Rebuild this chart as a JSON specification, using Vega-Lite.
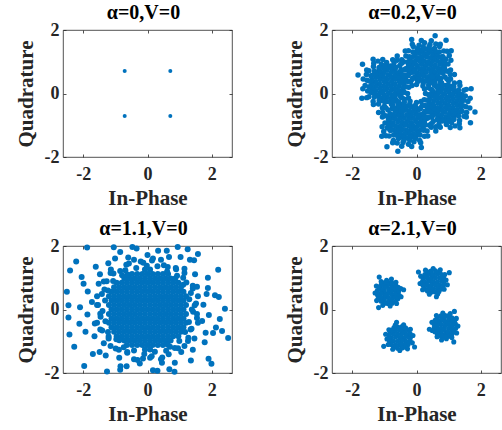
{
"$schema": "https://vega.github.io/schema/vega-lite/v6.json",
"padding": {"left": 14, "top": 2, "right": 0, "bottom": 0},
"columns": 2,
"spacing": {"row": 9, "column": 50},
"config": {
  "font": "Liberation Serif, Times New Roman, serif",
  "view": {"stroke": "#262626", "strokeWidth": 0.8},
  "axis": {"grid": false, "domain": false, "ticks": true, "tickSize": -3, "tickColor": "#262626", "tickWidth": 0.8,
    "labelFont": "Liberation Serif, Times New Roman, serif", "labelFontSize": 18, "labelFontWeight": "bold", "labelColor": "#262626",
    "titleFont": "Liberation Serif, Times New Roman, serif", "titleFontSize": 21, "titleFontWeight": "bold", "titleColor": "#262626",
    "labelExpr": "'' + datum.value"},
  "axisX": {"labelPadding": 11, "titlePadding": 4},
  "axisY": {"labelPadding": 7, "titlePadding": 8},
  "title": {"font": "Liberation Serif, Times New Roman, serif", "fontSize": 20, "fontWeight": "bold", "color": "#000000", "anchor": "middle", "frame": "group", "baseline": "alphabetic", "offset": -2, "dx": -4}
},
"datasets": {
"a": [{"x":-0.71,"y":0.71},{"x":0.71,"y":0.71},{"x":-0.71,"y":-0.71},{"x":0.71,"y":-0.71}],
"b": [
{"x":-0.12,"y":0.91},{"x":0.02,"y":0.88},{"x":0.16,"y":0.92},{"x":0.30,"y":0.89},{"x":0.44,"y":0.91},{"x":0.58,"y":0.89},{"x":0.73,"y":0.92},
{"x":-0.19,"y":1.03},{"x":-0.05,"y":1.01},{"x":0.09,"y":1.03},{"x":0.23,"y":1.02},{"x":0.37,"y":1.00},{"x":0.51,"y":1.03},{"x":0.65,"y":1.02},{"x":0.78,"y":1.01},
{"x":-0.18,"y":0.79},{"x":-0.05,"y":0.77},{"x":0.10,"y":0.78},{"x":0.23,"y":0.79},{"x":0.38,"y":0.77},{"x":0.51,"y":0.78},{"x":0.66,"y":0.79},{"x":0.79,"y":0.78},
{"x":-0.12,"y":1.15},{"x":0.02,"y":1.13},{"x":0.16,"y":1.14},{"x":0.31,"y":1.15},{"x":0.44,"y":1.13},{"x":0.58,"y":1.14},{"x":0.71,"y":1.15},
{"x":-0.11,"y":0.67},{"x":0.01,"y":0.65},{"x":0.16,"y":0.66},{"x":0.30,"y":0.67},{"x":0.45,"y":0.65},{"x":0.58,"y":0.66},{"x":0.72,"y":0.67},
{"x":-0.05,"y":1.25},{"x":0.09,"y":1.27},{"x":0.23,"y":1.26},{"x":0.37,"y":1.27},{"x":0.51,"y":1.25},{"x":0.64,"y":1.26},
{"x":-0.04,"y":0.53},{"x":0.09,"y":0.55},{"x":0.23,"y":0.54},{"x":0.37,"y":0.53},{"x":0.51,"y":0.54},{"x":0.65,"y":0.55},
{"x":0.16,"y":1.37},{"x":0.30,"y":1.39},{"x":0.44,"y":1.38},{"x":0.16,"y":0.42},{"x":0.31,"y":0.41},{"x":0.44,"y":0.43},
{"x":0.02,"y":1.36},{"x":0.58,"y":1.35},{"x":0.03,"y":0.45},{"x":0.59,"y":0.44},{"x":0.85,"y":0.90},{"x":-0.25,"y":0.92},{"x":0.82,"y":0.68},{"x":-0.23,"y":1.13},{"x":0.80,"y":1.16},{"x":-0.20,"y":0.65},
{"x":0.98,"y":0.93},{"x":0.91,"y":1.09},{"x":1.02,"y":1.20},{"x":0.85,"y":1.34},{"x":0.72,"y":1.48},{"x":0.60,"y":1.56},{"x":0.42,"y":1.54},{"x":0.25,"y":1.60},{"x":0.08,"y":1.52},{"x":-0.10,"y":1.48},{"x":-0.25,"y":1.35},{"x":-0.33,"y":1.18},
{"x":-0.40,"y":1.00},{"x":-0.34,"y":0.78},{"x":-0.30,"y":0.58},{"x":-0.18,"y":0.38},{"x":0.00,"y":0.28},{"x":0.20,"y":0.24},{"x":0.38,"y":0.27},{"x":0.56,"y":0.26},{"x":0.74,"y":0.37},{"x":0.88,"y":0.52},{"x":0.96,"y":0.70},
{"x":0.58,"y":1.82},{"x":0.92,"y":1.68},{"x":-0.15,"y":1.70},{"x":1.18,"y":0.60},{"x":-0.52,"y":0.50},{"x":0.70,"y":0.05},{"x":-0.60,"y":1.05},{"x":1.08,"y":1.35},
{"x":0.87,"y":0.99},{"x":0.82,"y":1.16},{"x":0.71,"y":1.31},{"x":0.56,"y":1.42},{"x":0.39,"y":1.47},{"x":0.21,"y":1.47},{"x":0.04,"y":1.42},{"x":-0.11,"y":1.31},{"x":-0.22,"y":1.16},{"x":-0.27,"y":0.99},{"x":-0.27,"y":0.81},{"x":-0.22,"y":0.64},{"x":-0.11,"y":0.49},{"x":0.04,"y":0.38},{"x":0.21,"y":0.33},{"x":0.39,"y":0.33},{"x":0.56,"y":0.38},{"x":0.71,"y":0.49},{"x":0.82,"y":0.64},{"x":0.87,"y":0.81},
{"x":1.07,"y":1.05},{"x":0.95,"y":1.33},{"x":0.74,"y":1.55},{"x":0.46,"y":1.66},{"x":0.15,"y":1.67},{"x":-0.13,"y":1.55},{"x":-0.35,"y":1.34},{"x":-0.46,"y":1.06},{"x":-0.47,"y":0.75},{"x":-0.35,"y":0.47},{"x":-0.14,"y":0.25},{"x":0.45,"y":0.13},{"x":0.73,"y":0.25},{"x":0.95,"y":0.46},{"x":1.06,"y":0.74},
{"x":-0.91,"y":-0.12},{"x":-0.88,"y":0.02},{"x":-0.92,"y":0.16},{"x":-0.89,"y":0.30},{"x":-0.91,"y":0.44},{"x":-0.89,"y":0.58},{"x":-0.92,"y":0.73},
{"x":-1.03,"y":-0.19},{"x":-1.01,"y":-0.05},{"x":-1.03,"y":0.09},{"x":-1.02,"y":0.23},{"x":-1.00,"y":0.37},{"x":-1.03,"y":0.51},{"x":-1.02,"y":0.65},{"x":-1.01,"y":0.78},
{"x":-0.79,"y":-0.18},{"x":-0.77,"y":-0.05},{"x":-0.78,"y":0.10},{"x":-0.79,"y":0.23},{"x":-0.77,"y":0.38},{"x":-0.78,"y":0.51},{"x":-0.79,"y":0.66},{"x":-0.78,"y":0.79},
{"x":-1.15,"y":-0.12},{"x":-1.13,"y":0.02},{"x":-1.14,"y":0.16},{"x":-1.15,"y":0.31},{"x":-1.13,"y":0.44},{"x":-1.14,"y":0.58},{"x":-1.15,"y":0.71},
{"x":-0.67,"y":-0.11},{"x":-0.65,"y":0.01},{"x":-0.66,"y":0.16},{"x":-0.67,"y":0.30},{"x":-0.65,"y":0.45},{"x":-0.66,"y":0.58},{"x":-0.67,"y":0.72},
{"x":-1.25,"y":-0.05},{"x":-1.27,"y":0.09},{"x":-1.26,"y":0.23},{"x":-1.27,"y":0.37},{"x":-1.25,"y":0.51},{"x":-1.26,"y":0.64},
{"x":-0.53,"y":-0.04},{"x":-0.55,"y":0.09},{"x":-0.54,"y":0.23},{"x":-0.53,"y":0.37},{"x":-0.54,"y":0.51},{"x":-0.55,"y":0.65},
{"x":-1.37,"y":0.16},{"x":-1.39,"y":0.30},{"x":-1.38,"y":0.44},{"x":-0.42,"y":0.16},{"x":-0.41,"y":0.31},{"x":-0.43,"y":0.44},
{"x":-1.36,"y":0.02},{"x":-1.35,"y":0.58},{"x":-0.45,"y":0.03},{"x":-0.44,"y":0.59},{"x":-0.90,"y":0.85},{"x":-0.92,"y":-0.25},{"x":-0.68,"y":0.82},{"x":-1.13,"y":-0.23},{"x":-1.16,"y":0.80},{"x":-0.65,"y":-0.20},
{"x":-0.93,"y":0.98},{"x":-1.09,"y":0.91},{"x":-1.20,"y":1.02},{"x":-1.34,"y":0.85},{"x":-1.48,"y":0.72},{"x":-1.56,"y":0.60},{"x":-1.54,"y":0.42},{"x":-1.60,"y":0.25},{"x":-1.52,"y":0.08},{"x":-1.48,"y":-0.10},{"x":-1.35,"y":-0.25},{"x":-1.18,"y":-0.33},
{"x":-1.00,"y":-0.40},{"x":-0.78,"y":-0.34},{"x":-0.58,"y":-0.30},{"x":-0.38,"y":-0.18},{"x":-0.28,"y":0.00},{"x":-0.24,"y":0.20},{"x":-0.27,"y":0.38},{"x":-0.26,"y":0.56},{"x":-0.37,"y":0.74},{"x":-0.52,"y":0.88},{"x":-0.70,"y":0.96},
{"x":-1.82,"y":0.58},{"x":-1.68,"y":0.92},{"x":-1.70,"y":-0.15},{"x":-0.60,"y":1.18},{"x":-0.50,"y":-0.52},{"x":-0.05,"y":0.70},{"x":-1.05,"y":-0.60},{"x":-1.35,"y":1.08},
{"x":-0.99,"y":0.87},{"x":-1.16,"y":0.82},{"x":-1.31,"y":0.71},{"x":-1.42,"y":0.56},{"x":-1.47,"y":0.39},{"x":-1.47,"y":0.21},{"x":-1.42,"y":0.04},{"x":-1.31,"y":-0.11},{"x":-1.16,"y":-0.22},{"x":-0.99,"y":-0.27},{"x":-0.81,"y":-0.27},{"x":-0.64,"y":-0.22},{"x":-0.49,"y":-0.11},{"x":-0.38,"y":0.04},{"x":-0.33,"y":0.21},{"x":-0.33,"y":0.39},{"x":-0.38,"y":0.56},{"x":-0.49,"y":0.71},{"x":-0.64,"y":0.82},{"x":-0.81,"y":0.87},
{"x":-1.05,"y":1.07},{"x":-1.33,"y":0.95},{"x":-1.55,"y":0.74},{"x":-1.66,"y":0.46},{"x":-1.67,"y":0.15},{"x":-1.55,"y":-0.13},{"x":-1.34,"y":-0.35},{"x":-1.06,"y":-0.46},{"x":-0.75,"y":-0.47},{"x":-0.47,"y":-0.35},{"x":-0.25,"y":-0.14},{"x":-0.13,"y":0.45},{"x":-0.25,"y":0.73},{"x":-0.46,"y":0.95},{"x":-0.74,"y":1.06},
{"x":0.12,"y":-0.91},{"x":-0.02,"y":-0.88},{"x":-0.16,"y":-0.92},{"x":-0.30,"y":-0.89},{"x":-0.44,"y":-0.91},{"x":-0.58,"y":-0.89},{"x":-0.73,"y":-0.92},
{"x":0.19,"y":-1.03},{"x":0.05,"y":-1.01},{"x":-0.09,"y":-1.03},{"x":-0.23,"y":-1.02},{"x":-0.37,"y":-1.00},{"x":-0.51,"y":-1.03},{"x":-0.65,"y":-1.02},{"x":-0.78,"y":-1.01},
{"x":0.18,"y":-0.79},{"x":0.05,"y":-0.77},{"x":-0.10,"y":-0.78},{"x":-0.23,"y":-0.79},{"x":-0.38,"y":-0.77},{"x":-0.51,"y":-0.78},{"x":-0.66,"y":-0.79},{"x":-0.79,"y":-0.78},
{"x":0.12,"y":-1.15},{"x":-0.02,"y":-1.13},{"x":-0.16,"y":-1.14},{"x":-0.31,"y":-1.15},{"x":-0.44,"y":-1.13},{"x":-0.58,"y":-1.14},{"x":-0.71,"y":-1.15},
{"x":0.11,"y":-0.67},{"x":-0.01,"y":-0.65},{"x":-0.16,"y":-0.66},{"x":-0.30,"y":-0.67},{"x":-0.45,"y":-0.65},{"x":-0.58,"y":-0.66},{"x":-0.72,"y":-0.67},
{"x":0.05,"y":-1.25},{"x":-0.09,"y":-1.27},{"x":-0.23,"y":-1.26},{"x":-0.37,"y":-1.27},{"x":-0.51,"y":-1.25},{"x":-0.64,"y":-1.26},
{"x":0.04,"y":-0.53},{"x":-0.09,"y":-0.55},{"x":-0.23,"y":-0.54},{"x":-0.37,"y":-0.53},{"x":-0.51,"y":-0.54},{"x":-0.65,"y":-0.55},
{"x":-0.16,"y":-1.37},{"x":-0.30,"y":-1.39},{"x":-0.44,"y":-1.38},{"x":-0.16,"y":-0.42},{"x":-0.31,"y":-0.41},{"x":-0.44,"y":-0.43},
{"x":-0.02,"y":-1.36},{"x":-0.58,"y":-1.35},{"x":-0.03,"y":-0.45},{"x":-0.59,"y":-0.44},{"x":-0.85,"y":-0.90},{"x":0.25,"y":-0.92},{"x":-0.82,"y":-0.68},{"x":0.23,"y":-1.13},{"x":-0.80,"y":-1.16},{"x":0.20,"y":-0.65},
{"x":-0.98,"y":-0.93},{"x":-0.91,"y":-1.09},{"x":-1.02,"y":-1.20},{"x":-0.85,"y":-1.34},{"x":-0.72,"y":-1.48},{"x":-0.60,"y":-1.56},{"x":-0.42,"y":-1.54},{"x":-0.25,"y":-1.60},{"x":-0.08,"y":-1.52},{"x":0.10,"y":-1.48},{"x":0.25,"y":-1.35},{"x":0.33,"y":-1.18},
{"x":0.40,"y":-1.00},{"x":0.34,"y":-0.78},{"x":0.30,"y":-0.58},{"x":0.18,"y":-0.38},{"x":0.00,"y":-0.28},{"x":-0.20,"y":-0.24},{"x":-0.38,"y":-0.27},{"x":-0.56,"y":-0.26},{"x":-0.74,"y":-0.37},{"x":-0.88,"y":-0.52},{"x":-0.96,"y":-0.70},
{"x":-0.58,"y":-1.82},{"x":-0.92,"y":-1.68},{"x":0.15,"y":-1.70},{"x":-1.18,"y":-0.60},{"x":0.52,"y":-0.50},{"x":-0.70,"y":-0.05},{"x":0.60,"y":-1.05},{"x":-1.08,"y":-1.35},
{"x":-0.87,"y":-0.99},{"x":-0.82,"y":-1.16},{"x":-0.71,"y":-1.31},{"x":-0.56,"y":-1.42},{"x":-0.39,"y":-1.47},{"x":-0.21,"y":-1.47},{"x":-0.04,"y":-1.42},{"x":0.11,"y":-1.31},{"x":0.22,"y":-1.16},{"x":0.27,"y":-0.99},{"x":0.27,"y":-0.81},{"x":0.22,"y":-0.64},{"x":0.11,"y":-0.49},{"x":-0.04,"y":-0.38},{"x":-0.21,"y":-0.33},{"x":-0.39,"y":-0.33},{"x":-0.56,"y":-0.38},{"x":-0.71,"y":-0.49},{"x":-0.82,"y":-0.64},{"x":-0.87,"y":-0.81},
{"x":-1.07,"y":-1.05},{"x":-0.95,"y":-1.33},{"x":-0.74,"y":-1.55},{"x":-0.46,"y":-1.66},{"x":-0.15,"y":-1.67},{"x":0.13,"y":-1.55},{"x":0.35,"y":-1.34},{"x":0.46,"y":-1.06},{"x":0.47,"y":-0.75},{"x":0.35,"y":-0.47},{"x":0.14,"y":-0.25},{"x":-0.45,"y":-0.13},{"x":-0.73,"y":-0.25},{"x":-0.95,"y":-0.46},{"x":-1.06,"y":-0.74},
{"x":0.91,"y":0.12},{"x":0.88,"y":-0.02},{"x":0.92,"y":-0.16},{"x":0.89,"y":-0.30},{"x":0.91,"y":-0.44},{"x":0.89,"y":-0.58},{"x":0.92,"y":-0.73},
{"x":1.03,"y":0.19},{"x":1.01,"y":0.05},{"x":1.03,"y":-0.09},{"x":1.02,"y":-0.23},{"x":1.00,"y":-0.37},{"x":1.03,"y":-0.51},{"x":1.02,"y":-0.65},{"x":1.01,"y":-0.78},
{"x":0.79,"y":0.18},{"x":0.77,"y":0.05},{"x":0.78,"y":-0.10},{"x":0.79,"y":-0.23},{"x":0.77,"y":-0.38},{"x":0.78,"y":-0.51},{"x":0.79,"y":-0.66},{"x":0.78,"y":-0.79},
{"x":1.15,"y":0.12},{"x":1.13,"y":-0.02},{"x":1.14,"y":-0.16},{"x":1.15,"y":-0.31},{"x":1.13,"y":-0.44},{"x":1.14,"y":-0.58},{"x":1.15,"y":-0.71},
{"x":0.67,"y":0.11},{"x":0.65,"y":-0.01},{"x":0.66,"y":-0.16},{"x":0.67,"y":-0.30},{"x":0.65,"y":-0.45},{"x":0.66,"y":-0.58},{"x":0.67,"y":-0.72},
{"x":1.25,"y":0.05},{"x":1.27,"y":-0.09},{"x":1.26,"y":-0.23},{"x":1.27,"y":-0.37},{"x":1.25,"y":-0.51},{"x":1.26,"y":-0.64},
{"x":0.53,"y":0.04},{"x":0.55,"y":-0.09},{"x":0.54,"y":-0.23},{"x":0.53,"y":-0.37},{"x":0.54,"y":-0.51},{"x":0.55,"y":-0.65},
{"x":1.37,"y":-0.16},{"x":1.39,"y":-0.30},{"x":1.38,"y":-0.44},{"x":0.42,"y":-0.16},{"x":0.41,"y":-0.31},{"x":0.43,"y":-0.44},
{"x":1.36,"y":-0.02},{"x":1.35,"y":-0.58},{"x":0.45,"y":-0.03},{"x":0.44,"y":-0.59},{"x":0.90,"y":-0.85},{"x":0.92,"y":0.25},{"x":0.68,"y":-0.82},{"x":1.13,"y":0.23},{"x":1.16,"y":-0.80},{"x":0.65,"y":0.20},
{"x":0.93,"y":-0.98},{"x":1.09,"y":-0.91},{"x":1.20,"y":-1.02},{"x":1.34,"y":-0.85},{"x":1.48,"y":-0.72},{"x":1.56,"y":-0.60},{"x":1.54,"y":-0.42},{"x":1.60,"y":-0.25},{"x":1.52,"y":-0.08},{"x":1.48,"y":0.10},{"x":1.35,"y":0.25},{"x":1.18,"y":0.33},
{"x":1.00,"y":0.40},{"x":0.78,"y":0.34},{"x":0.58,"y":0.30},{"x":0.38,"y":0.18},{"x":0.28,"y":0.00},{"x":0.24,"y":-0.20},{"x":0.27,"y":-0.38},{"x":0.26,"y":-0.56},{"x":0.37,"y":-0.74},{"x":0.52,"y":-0.88},{"x":0.70,"y":-0.96},
{"x":1.82,"y":-0.58},{"x":1.68,"y":-0.92},{"x":1.70,"y":0.15},{"x":0.60,"y":-1.18},{"x":0.50,"y":0.52},{"x":0.05,"y":-0.70},{"x":1.05,"y":0.60},{"x":1.35,"y":-1.08},
{"x":0.99,"y":-0.87},{"x":1.16,"y":-0.82},{"x":1.31,"y":-0.71},{"x":1.42,"y":-0.56},{"x":1.47,"y":-0.39},{"x":1.47,"y":-0.21},{"x":1.42,"y":-0.04},{"x":1.31,"y":0.11},{"x":1.16,"y":0.22},{"x":0.99,"y":0.27},{"x":0.81,"y":0.27},{"x":0.64,"y":0.22},{"x":0.49,"y":0.11},{"x":0.38,"y":-0.04},{"x":0.33,"y":-0.21},{"x":0.33,"y":-0.39},{"x":0.38,"y":-0.56},{"x":0.49,"y":-0.71},{"x":0.64,"y":-0.82},{"x":0.81,"y":-0.87},
{"x":1.05,"y":-1.07},{"x":1.33,"y":-0.95},{"x":1.55,"y":-0.74},{"x":1.66,"y":-0.46},{"x":1.67,"y":-0.15},{"x":1.55,"y":0.13},{"x":1.34,"y":0.35},{"x":1.06,"y":0.46},{"x":0.75,"y":0.47},{"x":0.47,"y":0.35},{"x":0.25,"y":0.14},{"x":0.13,"y":-0.45},{"x":0.25,"y":-0.73},{"x":0.46,"y":-0.95},{"x":0.74,"y":-1.06}
],
"c": [
{"x":-1.12,"y":0},{"x":-0.96,"y":0},{"x":-0.8,"y":0},{"x":-0.64,"y":0},{"x":-0.48,"y":0},{"x":-0.32,"y":0},{"x":-0.16,"y":0},{"x":0,"y":0},{"x":0.16,"y":0},{"x":0.32,"y":0},{"x":0.48,"y":0},{"x":0.64,"y":0},{"x":0.8,"y":0},{"x":0.96,"y":0},{"x":1.12,"y":0},
{"x":-1.2,"y":0.14},{"x":-1.04,"y":0.14},{"x":-0.88,"y":0.14},{"x":-0.72,"y":0.14},{"x":-0.56,"y":0.14},{"x":-0.4,"y":0.14},{"x":-0.24,"y":0.14},{"x":-0.08,"y":0.14},{"x":0.08,"y":0.14},{"x":0.24,"y":0.14},{"x":0.4,"y":0.14},{"x":0.56,"y":0.14},{"x":0.72,"y":0.14},{"x":0.88,"y":0.14},{"x":1.04,"y":0.14},{"x":1.2,"y":0.14},
{"x":-1.2,"y":-0.14},{"x":-1.04,"y":-0.14},{"x":-0.88,"y":-0.14},{"x":-0.72,"y":-0.14},{"x":-0.56,"y":-0.14},{"x":-0.4,"y":-0.14},{"x":-0.24,"y":-0.14},{"x":-0.08,"y":-0.14},{"x":0.08,"y":-0.14},{"x":0.24,"y":-0.14},{"x":0.4,"y":-0.14},{"x":0.56,"y":-0.14},{"x":0.72,"y":-0.14},{"x":0.88,"y":-0.14},{"x":1.04,"y":-0.14},{"x":1.2,"y":-0.14},
{"x":-1.12,"y":0.28},{"x":-0.96,"y":0.28},{"x":-0.8,"y":0.28},{"x":-0.64,"y":0.28},{"x":-0.48,"y":0.28},{"x":-0.32,"y":0.28},{"x":-0.16,"y":0.28},{"x":0,"y":0.28},{"x":0.16,"y":0.28},{"x":0.32,"y":0.28},{"x":0.48,"y":0.28},{"x":0.64,"y":0.28},{"x":0.8,"y":0.28},{"x":0.96,"y":0.28},{"x":1.12,"y":0.28},
{"x":-1.12,"y":-0.28},{"x":-0.96,"y":-0.28},{"x":-0.8,"y":-0.28},{"x":-0.64,"y":-0.28},{"x":-0.48,"y":-0.28},{"x":-0.32,"y":-0.28},{"x":-0.16,"y":-0.28},{"x":0,"y":-0.28},{"x":0.16,"y":-0.28},{"x":0.32,"y":-0.28},{"x":0.48,"y":-0.28},{"x":0.64,"y":-0.28},{"x":0.8,"y":-0.28},{"x":0.96,"y":-0.28},{"x":1.12,"y":-0.28},
{"x":-1.2,"y":0.42},{"x":-1.04,"y":0.42},{"x":-0.88,"y":0.42},{"x":-0.72,"y":0.42},{"x":-0.56,"y":0.42},{"x":-0.4,"y":0.42},{"x":-0.24,"y":0.42},{"x":-0.08,"y":0.42},{"x":0.08,"y":0.42},{"x":0.24,"y":0.42},{"x":0.4,"y":0.42},{"x":0.56,"y":0.42},{"x":0.72,"y":0.42},{"x":0.88,"y":0.42},{"x":1.04,"y":0.42},{"x":1.2,"y":0.42},
{"x":-1.2,"y":-0.42},{"x":-1.04,"y":-0.42},{"x":-0.88,"y":-0.42},{"x":-0.72,"y":-0.42},{"x":-0.56,"y":-0.42},{"x":-0.4,"y":-0.42},{"x":-0.24,"y":-0.42},{"x":-0.08,"y":-0.42},{"x":0.08,"y":-0.42},{"x":0.24,"y":-0.42},{"x":0.4,"y":-0.42},{"x":0.56,"y":-0.42},{"x":0.72,"y":-0.42},{"x":0.88,"y":-0.42},{"x":1.04,"y":-0.42},{"x":1.2,"y":-0.42},
{"x":-1.12,"y":0.56},{"x":-0.96,"y":0.56},{"x":-0.8,"y":0.56},{"x":-0.64,"y":0.56},{"x":-0.48,"y":0.56},{"x":-0.32,"y":0.56},{"x":-0.16,"y":0.56},{"x":0,"y":0.56},{"x":0.16,"y":0.56},{"x":0.32,"y":0.56},{"x":0.48,"y":0.56},{"x":0.64,"y":0.56},{"x":0.8,"y":0.56},{"x":0.96,"y":0.56},{"x":1.12,"y":0.56},
{"x":-1.12,"y":-0.56},{"x":-0.96,"y":-0.56},{"x":-0.8,"y":-0.56},{"x":-0.64,"y":-0.56},{"x":-0.48,"y":-0.56},{"x":-0.32,"y":-0.56},{"x":-0.16,"y":-0.56},{"x":0,"y":-0.56},{"x":0.16,"y":-0.56},{"x":0.32,"y":-0.56},{"x":0.48,"y":-0.56},{"x":0.64,"y":-0.56},{"x":0.8,"y":-0.56},{"x":0.96,"y":-0.56},{"x":1.12,"y":-0.56},
{"x":-1.04,"y":0.7},{"x":-0.88,"y":0.7},{"x":-0.72,"y":0.7},{"x":-0.56,"y":0.7},{"x":-0.4,"y":0.7},{"x":-0.24,"y":0.7},{"x":-0.08,"y":0.7},{"x":0.08,"y":0.7},{"x":0.24,"y":0.7},{"x":0.4,"y":0.7},{"x":0.56,"y":0.7},{"x":0.72,"y":0.7},{"x":0.88,"y":0.7},{"x":1.04,"y":0.7},
{"x":-1.04,"y":-0.7},{"x":-0.88,"y":-0.7},{"x":-0.72,"y":-0.7},{"x":-0.56,"y":-0.7},{"x":-0.4,"y":-0.7},{"x":-0.24,"y":-0.7},{"x":-0.08,"y":-0.7},{"x":0.08,"y":-0.7},{"x":0.24,"y":-0.7},{"x":0.4,"y":-0.7},{"x":0.56,"y":-0.7},{"x":0.72,"y":-0.7},{"x":0.88,"y":-0.7},{"x":1.04,"y":-0.7},
{"x":-0.96,"y":0.84},{"x":-0.8,"y":0.84},{"x":-0.64,"y":0.84},{"x":-0.48,"y":0.84},{"x":-0.32,"y":0.84},{"x":-0.16,"y":0.84},{"x":0,"y":0.84},{"x":0.16,"y":0.84},{"x":0.32,"y":0.84},{"x":0.48,"y":0.84},{"x":0.64,"y":0.84},{"x":0.8,"y":0.84},{"x":0.96,"y":0.84},
{"x":-0.96,"y":-0.84},{"x":-0.8,"y":-0.84},{"x":-0.64,"y":-0.84},{"x":-0.48,"y":-0.84},{"x":-0.32,"y":-0.84},{"x":-0.16,"y":-0.84},{"x":0,"y":-0.84},{"x":0.16,"y":-0.84},{"x":0.32,"y":-0.84},{"x":0.48,"y":-0.84},{"x":0.64,"y":-0.84},{"x":0.8,"y":-0.84},{"x":0.96,"y":-0.84},
{"x":-0.72,"y":0.98},{"x":-0.56,"y":0.98},{"x":-0.4,"y":0.98},{"x":-0.24,"y":0.98},{"x":-0.08,"y":0.98},{"x":0.08,"y":0.98},{"x":0.24,"y":0.98},{"x":0.4,"y":0.98},{"x":0.56,"y":0.98},{"x":0.72,"y":0.98},
{"x":-0.72,"y":-0.98},{"x":-0.56,"y":-0.98},{"x":-0.4,"y":-0.98},{"x":-0.24,"y":-0.98},{"x":-0.08,"y":-0.98},{"x":0.08,"y":-0.98},{"x":0.24,"y":-0.98},{"x":0.4,"y":-0.98},{"x":0.56,"y":-0.98},{"x":0.72,"y":-0.98},
{"x":-0.48,"y":1.12},{"x":-0.32,"y":1.12},{"x":-0.16,"y":1.12},{"x":0,"y":1.12},{"x":0.16,"y":1.12},{"x":0.32,"y":1.12},{"x":0.48,"y":1.12},
{"x":-0.48,"y":-1.12},{"x":-0.32,"y":-1.12},{"x":-0.16,"y":-1.12},{"x":0,"y":-1.12},{"x":0.16,"y":-1.12},{"x":0.32,"y":-1.12},{"x":0.48,"y":-1.12},
{"x":-0.08,"y":1.26},{"x":0.08,"y":1.26},{"x":-0.08,"y":-1.26},{"x":0.08,"y":-1.26},
{"x":0.64,"y":1.12},{"x":-0.62,"y":1.1},{"x":0.86,"y":0.98},{"x":-0.88,"y":-0.97},{"x":0.63,"y":-1.11},{"x":-0.64,"y":-1.12},
{"x":1.38,"y":0.00},{"x":1.51,"y":0.19},{"x":1.30,"y":0.32},{"x":1.35,"y":0.52},{"x":1.41,"y":0.75},{"x":1.11,"y":0.78},{"x":1.11,"y":1.00},{"x":0.92,"y":1.06},{"x":0.88,"y":1.31},{"x":0.61,"y":1.20},{"x":0.51,"y":1.39},{"x":0.31,"y":1.36},{"x":0.17,"y":1.61},
{"x":-0.02,"y":1.38},{"x":-0.21,"y":1.51},{"x":-0.35,"y":1.31},{"x":-0.58,"y":1.45},{"x":-0.69,"y":1.24},{"x":-0.79,"y":1.08},{"x":-1.06,"y":1.13},{"x":-1.07,"y":0.90},{"x":-1.36,"y":0.88},{"x":-1.23,"y":0.60},{"x":-1.42,"y":0.49},{"x":-1.32,"y":0.28},{"x":-1.57,"y":0.14},
{"x":-1.40,"y":-0.05},{"x":-1.46,"y":-0.23},{"x":-1.31,"y":-0.37},{"x":-1.47,"y":-0.63},{"x":-1.23,"y":-0.71},{"x":-1.21,"y":-0.91},{"x":-0.97,"y":-0.94},{"x":-0.99,"y":-1.23},{"x":-0.74,"y":-1.19},{"x":-0.63,"y":-1.36},{"x":-0.42,"y":-1.29},{"x":-0.31,"y":-1.59},
{"x":-0.10,"y":-1.40},{"x":0.08,"y":-1.52},{"x":0.23,"y":-1.33},{"x":0.46,"y":-1.51},{"x":0.58,"y":-1.30},{"x":0.70,"y":-1.17},{"x":0.95,"y":-1.22},{"x":0.99,"y":-0.99},{"x":1.26,"y":-0.99},{"x":1.17,"y":-0.71},{"x":1.37,"y":-0.61},{"x":1.29,"y":-0.39},{"x":1.54,"y":-0.27},{"x":1.42,"y":-0.07},
{"x":1.47,"y":0.13},{"x":1.57,"y":0.42},{"x":1.41,"y":0.66},{"x":1.21,"y":0.85},{"x":1.15,"y":1.15},{"x":0.89,"y":1.27},{"x":0.63,"y":1.34},{"x":0.42,"y":1.57},{"x":0.14,"y":1.54},{"x":-0.13,"y":1.47},{"x":-0.42,"y":1.57},{"x":-0.66,"y":1.41},
{"x":-0.85,"y":1.21},{"x":-1.15,"y":1.15},{"x":-1.27,"y":0.89},{"x":-1.34,"y":0.63},{"x":-1.57,"y":0.42},{"x":-1.54,"y":0.14},{"x":-1.47,"y":-0.13},{"x":-1.57,"y":-0.42},{"x":-1.41,"y":-0.66},{"x":-1.21,"y":-0.85},{"x":-1.15,"y":-1.15},{"x":-0.89,"y":-1.27},
{"x":-0.63,"y":-1.34},{"x":-0.42,"y":-1.57},{"x":-0.14,"y":-1.54},{"x":0.13,"y":-1.47},{"x":0.42,"y":-1.57},{"x":0.66,"y":-1.41},{"x":0.85,"y":-1.21},{"x":1.15,"y":-1.15},{"x":1.27,"y":-0.89},{"x":1.34,"y":-0.63},{"x":1.57,"y":-0.42},{"x":1.54,"y":-0.14},
{"x":1.74,"y":0.15},{"x":1.84,"y":0.49},{"x":1.54,"y":0.72},{"x":1.48,"y":1.11},{"x":1.15,"y":1.28},{"x":1.03,"y":1.65},{"x":0.67,"y":1.65},{"x":0.33,"y":1.85},{"x":0.00,"y":1.72},{"x":-0.34,"y":1.92},{"x":-0.60,"y":1.64},{"x":-1.01,"y":1.61},
{"x":-1.14,"y":1.26},{"x":-1.48,"y":1.11},{"x":-1.52,"y":0.81},{"x":-1.86,"y":0.57},{"x":-1.73,"y":0.24},{"x":-1.87,"y":-0.16},{"x":-1.64,"y":-0.44},{"x":-1.65,"y":-0.84},{"x":-1.36,"y":-1.06},{"x":-1.30,"y":-1.45},{"x":-0.88,"y":-1.52},
{"x":-0.65,"y":-1.79},{"x":-0.24,"y":-1.70},{"x":0.17,"y":-1.91},{"x":0.45,"y":-1.68},{"x":0.85,"y":-1.68},{"x":1.05,"y":-1.34},{"x":1.41,"y":-1.27},{"x":1.46,"y":-0.91},{"x":1.81,"y":-0.73},{"x":1.70,"y":-0.36},{"x":1.91,"y":-0.17},
{"x":1.88,"y":0.68},{"x":1.32,"y":1.57},{"x":0.60,"y":1.85},{"x":-0.85,"y":1.81},{"x":-1.61,"y":1.35},{"x":-1.99,"y":0.81},{"x":-2.10,"y":0.07},{"x":-1.93,"y":-0.70},{"x":-1.49,"y":-1.34},{"x":-0.84,"y":-1.79},{"x":0.68,"y":-1.88},{"x":1.35,"y":-1.61},{"x":1.78,"y":-1.03},{"x":2.13,"y":-0.57},{"x":2.22,"y":0.39},{"x":-1.22,"y":1.46},
{"x":-2.51,"y":0.56},{"x":-2.46,"y":0.13},{"x":-2.46,"y":-0.25},{"x":-2.43,"y":-0.79},{"x":-2.28,"y":-1.17},{"x":-1.97,"y":-1.78},{"x":-2.05,"y":1.02},{"x":-1.88,"y":1.95},{"x":-2.22,"y":1.51},{"x":-2.41,"y":1.23},
{"x":2.41,"y":0.02},{"x":2.51,"y":-0.90},{"x":2.32,"y":-0.68},{"x":2.04,"y":-0.74},{"x":1.99,"y":-1.71},{"x":1.90,"y":-1.55},{"x":1.57,"y":1.75},{"x":1.45,"y":1.55},{"x":1.88,"y":1.00},{"x":0.94,"y":1.97},
{"x":-1.05,"y":1.96},{"x":-0.47,"y":1.97},{"x":-1.26,"y":-1.95},{"x":0.84,"y":-1.96},{"x":0.31,"y":-1.93},{"x":2.10,"y":0.45},{"x":-2.12,"y":-0.45},{"x":2.20,"y":1.25},{"x":-1.70,"y":-1.40},{"x":1.25,"y":1.90},{"x":-0.85,"y":-1.90},{"x":2.25,"y":-0.30}
],
"d": [
{"x":0.19,"y":0.89},{"x":0.26,"y":0.87},{"x":0.39,"y":0.89},{"x":0.52,"y":0.88},{"x":0.65,"y":0.87},{"x":0.78,"y":0.89},{"x":0.85,"y":0.87},
{"x":0.20,"y":0.99},{"x":0.33,"y":1.00},{"x":0.46,"y":0.99},{"x":0.59,"y":1.00},{"x":0.72,"y":0.99},{"x":0.84,"y":1.00},
{"x":0.20,"y":0.76},{"x":0.33,"y":0.77},{"x":0.46,"y":0.76},{"x":0.59,"y":0.77},{"x":0.72,"y":0.76},{"x":0.84,"y":0.77},
{"x":0.26,"y":1.10},{"x":0.39,"y":1.11},{"x":0.52,"y":1.10},{"x":0.65,"y":1.11},{"x":0.78,"y":1.10},
{"x":0.26,"y":0.65},{"x":0.39,"y":0.66},{"x":0.52,"y":0.65},{"x":0.65,"y":0.66},{"x":0.78,"y":0.65},
{"x":0.45,"y":1.21},{"x":0.59,"y":1.22},{"x":0.45,"y":0.54},{"x":0.58,"y":0.55},{"x":0.34,"y":1.19},{"x":0.71,"y":1.18},{"x":0.34,"y":0.58},{"x":0.70,"y":0.57},
{"x":0.92,"y":0.93},{"x":0.88,"y":1.10},{"x":0.74,"y":1.25},{"x":0.52,"y":1.29},{"x":0.28,"y":1.24},{"x":0.13,"y":1.05},{"x":0.11,"y":0.82},{"x":0.19,"y":0.62},{"x":0.40,"y":0.48},{"x":0.66,"y":0.49},{"x":0.86,"y":0.64},{"x":0.96,"y":0.78},
{"x":1.02,"y":1.16},{"x":0.06,"y":1.18},{"x":0.62,"y":0.40},
{"x":-0.89,"y":0.19},{"x":-0.87,"y":0.26},{"x":-0.89,"y":0.39},{"x":-0.88,"y":0.52},{"x":-0.87,"y":0.65},{"x":-0.89,"y":0.78},{"x":-0.87,"y":0.85},
{"x":-0.99,"y":0.20},{"x":-1.00,"y":0.33},{"x":-0.99,"y":0.46},{"x":-1.00,"y":0.59},{"x":-0.99,"y":0.72},{"x":-1.00,"y":0.84},
{"x":-0.76,"y":0.20},{"x":-0.77,"y":0.33},{"x":-0.76,"y":0.46},{"x":-0.77,"y":0.59},{"x":-0.76,"y":0.72},{"x":-0.77,"y":0.84},
{"x":-1.10,"y":0.26},{"x":-1.11,"y":0.39},{"x":-1.10,"y":0.52},{"x":-1.11,"y":0.65},{"x":-1.10,"y":0.78},
{"x":-0.65,"y":0.26},{"x":-0.66,"y":0.39},{"x":-0.65,"y":0.52},{"x":-0.66,"y":0.65},{"x":-0.65,"y":0.78},
{"x":-1.21,"y":0.45},{"x":-1.22,"y":0.59},{"x":-0.54,"y":0.45},{"x":-0.55,"y":0.58},{"x":-1.19,"y":0.34},{"x":-1.18,"y":0.71},{"x":-0.58,"y":0.34},{"x":-0.57,"y":0.70},
{"x":-0.93,"y":0.92},{"x":-1.10,"y":0.88},{"x":-1.25,"y":0.74},{"x":-1.29,"y":0.52},{"x":-1.24,"y":0.28},{"x":-1.05,"y":0.13},{"x":-0.82,"y":0.11},{"x":-0.62,"y":0.19},{"x":-0.48,"y":0.40},{"x":-0.49,"y":0.66},{"x":-0.64,"y":0.86},{"x":-0.78,"y":0.96},
{"x":-1.16,"y":1.02},{"x":-1.18,"y":0.06},{"x":-0.40,"y":0.62},
{"x":-0.19,"y":-0.89},{"x":-0.26,"y":-0.87},{"x":-0.39,"y":-0.89},{"x":-0.52,"y":-0.88},{"x":-0.65,"y":-0.87},{"x":-0.78,"y":-0.89},{"x":-0.85,"y":-0.87},
{"x":-0.20,"y":-0.99},{"x":-0.33,"y":-1.00},{"x":-0.46,"y":-0.99},{"x":-0.59,"y":-1.00},{"x":-0.72,"y":-0.99},{"x":-0.84,"y":-1.00},
{"x":-0.20,"y":-0.76},{"x":-0.33,"y":-0.77},{"x":-0.46,"y":-0.76},{"x":-0.59,"y":-0.77},{"x":-0.72,"y":-0.76},{"x":-0.84,"y":-0.77},
{"x":-0.26,"y":-1.10},{"x":-0.39,"y":-1.11},{"x":-0.52,"y":-1.10},{"x":-0.65,"y":-1.11},{"x":-0.78,"y":-1.10},
{"x":-0.26,"y":-0.65},{"x":-0.39,"y":-0.66},{"x":-0.52,"y":-0.65},{"x":-0.65,"y":-0.66},{"x":-0.78,"y":-0.65},
{"x":-0.45,"y":-1.21},{"x":-0.59,"y":-1.22},{"x":-0.45,"y":-0.54},{"x":-0.58,"y":-0.55},{"x":-0.34,"y":-1.19},{"x":-0.71,"y":-1.18},{"x":-0.34,"y":-0.58},{"x":-0.70,"y":-0.57},
{"x":-0.92,"y":-0.93},{"x":-0.88,"y":-1.10},{"x":-0.74,"y":-1.25},{"x":-0.52,"y":-1.29},{"x":-0.28,"y":-1.24},{"x":-0.13,"y":-1.05},{"x":-0.11,"y":-0.82},{"x":-0.19,"y":-0.62},{"x":-0.40,"y":-0.48},{"x":-0.66,"y":-0.49},{"x":-0.86,"y":-0.64},{"x":-0.96,"y":-0.78},
{"x":-1.02,"y":-1.16},{"x":-0.06,"y":-1.18},{"x":-0.62,"y":-0.40},
{"x":0.89,"y":-0.19},{"x":0.87,"y":-0.26},{"x":0.89,"y":-0.39},{"x":0.88,"y":-0.52},{"x":0.87,"y":-0.65},{"x":0.89,"y":-0.78},{"x":0.87,"y":-0.85},
{"x":0.99,"y":-0.20},{"x":1.00,"y":-0.33},{"x":0.99,"y":-0.46},{"x":1.00,"y":-0.59},{"x":0.99,"y":-0.72},{"x":1.00,"y":-0.84},
{"x":0.76,"y":-0.20},{"x":0.77,"y":-0.33},{"x":0.76,"y":-0.46},{"x":0.77,"y":-0.59},{"x":0.76,"y":-0.72},{"x":0.77,"y":-0.84},
{"x":1.10,"y":-0.26},{"x":1.11,"y":-0.39},{"x":1.10,"y":-0.52},{"x":1.11,"y":-0.65},{"x":1.10,"y":-0.78},
{"x":0.65,"y":-0.26},{"x":0.66,"y":-0.39},{"x":0.65,"y":-0.52},{"x":0.66,"y":-0.65},{"x":0.65,"y":-0.78},
{"x":1.21,"y":-0.45},{"x":1.22,"y":-0.59},{"x":0.54,"y":-0.45},{"x":0.55,"y":-0.58},{"x":1.19,"y":-0.34},{"x":1.18,"y":-0.71},{"x":0.58,"y":-0.34},{"x":0.57,"y":-0.70},
{"x":0.93,"y":-0.92},{"x":1.10,"y":-0.88},{"x":1.25,"y":-0.74},{"x":1.29,"y":-0.52},{"x":1.24,"y":-0.28},{"x":1.05,"y":-0.13},{"x":0.82,"y":-0.11},{"x":0.62,"y":-0.19},{"x":0.48,"y":-0.40},{"x":0.49,"y":-0.66},{"x":0.64,"y":-0.86},{"x":0.78,"y":-0.96},
{"x":1.16,"y":-1.02},{"x":1.18,"y":-0.06},{"x":0.40,"y":-0.62}
]
},
"concat": [
{"width": 169, "height": 127, "title": "α=0,V=0", "data": {"name": "a"},
 "layer": [
  {"mark": {"type": "point", "filled": true, "size": 16, "opacity": 1, "color": "#0072BD"},
   "encoding": {"x": {"field": "x", "type": "quantitative", "scale": {"domain": [-2.63, 2.63], "nice": false, "zero": false}, "axis": {"title": "In-Phase", "values": [-2, 0, 2]}},
                "y": {"field": "y", "type": "quantitative", "scale": {"domain": [-2, 2], "nice": false, "zero": false}, "axis": {"title": "Quadrature", "values": [-2, 0, 2]}}}},
  {"mark": {"type": "point", "opacity": 0},
   "encoding": {"x": {"field": "x", "type": "quantitative", "axis": {"orient": "top", "labels": false, "labelPadding": 0, "title": null, "values": [-2, 0, 2]}},
                "y": {"field": "y", "type": "quantitative", "axis": {"orient": "right", "labels": false, "labelPadding": 0, "title": null, "values": [-2, 0, 2]}}}}
 ],
 "resolve": {"axis": {"x": "independent", "y": "independent"}}},
{"width": 169, "height": 127, "title": "α=0.2,V=0", "data": {"name": "b"},
 "layer": [
  {"mark": {"type": "point", "filled": true, "size": 30, "opacity": 1, "color": "#0072BD"},
   "encoding": {"x": {"field": "x", "type": "quantitative", "scale": {"domain": [-2.63, 2.63], "nice": false, "zero": false}, "axis": {"title": "In-Phase", "values": [-2, 0, 2]}},
                "y": {"field": "y", "type": "quantitative", "scale": {"domain": [-2, 2], "nice": false, "zero": false}, "axis": {"title": "Quadrature", "values": [-2, 0, 2]}}}},
  {"mark": {"type": "point", "opacity": 0},
   "encoding": {"x": {"field": "x", "type": "quantitative", "axis": {"orient": "top", "labels": false, "labelPadding": 0, "title": null, "values": [-2, 0, 2]}},
                "y": {"field": "y", "type": "quantitative", "axis": {"orient": "right", "labels": false, "labelPadding": 0, "title": null, "values": [-2, 0, 2]}}}}
 ],
 "resolve": {"axis": {"x": "independent", "y": "independent"}}},
{"width": 169, "height": 127, "title": "α=1.1,V=0", "data": {"name": "c"},
 "layer": [
  {"mark": {"type": "point", "filled": true, "size": 36, "opacity": 1, "color": "#0072BD"},
   "encoding": {"x": {"field": "x", "type": "quantitative", "scale": {"domain": [-2.63, 2.63], "nice": false, "zero": false}, "axis": {"title": "In-Phase", "values": [-2, 0, 2]}},
                "y": {"field": "y", "type": "quantitative", "scale": {"domain": [-2, 2], "nice": false, "zero": false}, "axis": {"title": "Quadrature", "values": [-2, 0, 2]}}}},
  {"mark": {"type": "point", "opacity": 0},
   "encoding": {"x": {"field": "x", "type": "quantitative", "axis": {"orient": "top", "labels": false, "labelPadding": 0, "title": null, "values": [-2, 0, 2]}},
                "y": {"field": "y", "type": "quantitative", "axis": {"orient": "right", "labels": false, "labelPadding": 0, "title": null, "values": [-2, 0, 2]}}}}
 ],
 "resolve": {"axis": {"x": "independent", "y": "independent"}}},
{"width": 169, "height": 127, "title": "α=2.1,V=0", "data": {"name": "d"},
 "layer": [
  {"mark": {"type": "point", "filled": true, "size": 26, "opacity": 1, "color": "#0072BD"},
   "encoding": {"x": {"field": "x", "type": "quantitative", "scale": {"domain": [-2.63, 2.63], "nice": false, "zero": false}, "axis": {"title": "In-Phase", "values": [-2, 0, 2]}},
                "y": {"field": "y", "type": "quantitative", "scale": {"domain": [-2, 2], "nice": false, "zero": false}, "axis": {"title": "Quadrature", "values": [-2, 0, 2]}}}},
  {"mark": {"type": "point", "opacity": 0},
   "encoding": {"x": {"field": "x", "type": "quantitative", "axis": {"orient": "top", "labels": false, "labelPadding": 0, "title": null, "values": [-2, 0, 2]}},
                "y": {"field": "y", "type": "quantitative", "axis": {"orient": "right", "labels": false, "labelPadding": 0, "title": null, "values": [-2, 0, 2]}}}}
 ],
 "resolve": {"axis": {"x": "independent", "y": "independent"}}}
]
}
